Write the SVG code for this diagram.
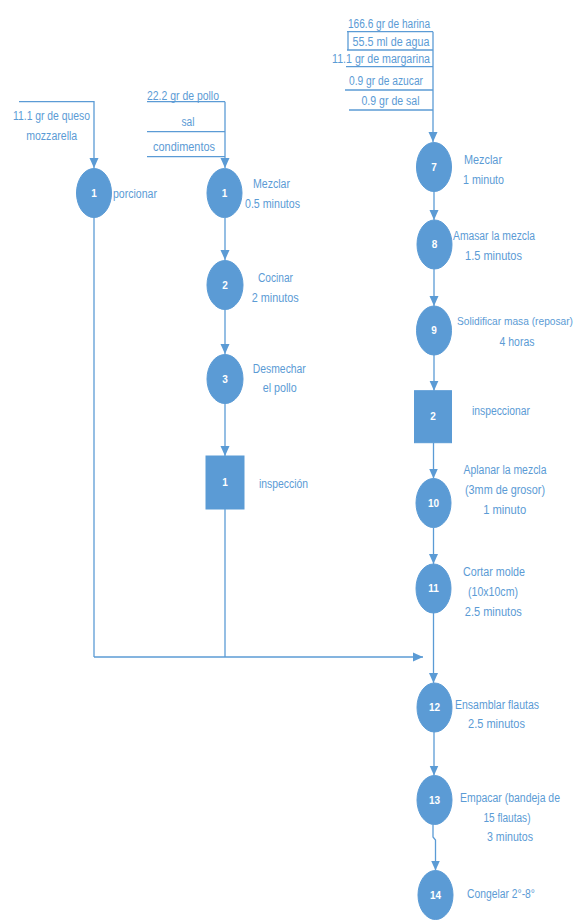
<svg xmlns="http://www.w3.org/2000/svg" width="586" height="920" viewBox="0 0 586 920">
  <style>
    .bg { fill: #ffffff; }
    .op { fill: #5b9bd5; stroke: #5b9bd5; stroke-width: 1; }
    .num { fill: #ffffff; font-family: "Liberation Sans", sans-serif; font-size: 10px; font-weight: bold; text-anchor: middle; }
    .lbl { fill: #5b9bd5; font-family: "Liberation Sans", sans-serif; font-size: 12.5px; text-anchor: middle; }
    .lbl.sm { font-size: 10.5px; }
    .ln { fill: none; stroke: #5b9bd5; stroke-width: 1.3; }
    .arr { fill: none; stroke: #5b9bd5; stroke-width: 1.3; marker-end: url(#ah); }
  </style>
  <defs>
    <marker id="ah" markerUnits="userSpaceOnUse" markerWidth="10" markerHeight="10" viewBox="0 0 10 10" refX="10" refY="5" orient="auto">
      <path d="M0,0.5 L10,5 L0,9.5 Z" fill="#5b9bd5"/>
    </marker>
  </defs>
  <rect class="bg" x="0" y="0" width="586" height="920"/>

  <!-- connectors -->
  <g id="connectors">
    <!-- cheese input -->
    <polyline class="arr" points="19,101.7 94,101.7 94,168"/>
    <!-- chicken inputs -->
    <line class="ln" x1="147" y1="101.7" x2="225" y2="101.7"/>
    <line class="ln" x1="147" y1="131.7" x2="225" y2="131.7"/>
    <line class="ln" x1="147" y1="156.7" x2="225" y2="156.7"/>
    <line class="arr" x1="225" y1="101.7" x2="225" y2="168"/>
    <!-- dough inputs -->
    <line class="ln" x1="347" y1="31.7" x2="433" y2="31.7"/>
    <line class="ln" x1="348" y1="31.7" x2="348" y2="50"/>
    <line class="ln" x1="347" y1="50" x2="433" y2="50"/>
    <line class="ln" x1="346" y1="66.7" x2="433" y2="66.7"/>
    <line class="ln" x1="345" y1="90" x2="433" y2="90"/>
    <line class="ln" x1="349" y1="110" x2="433" y2="110"/>
    <line class="arr" x1="433" y1="31.7" x2="433" y2="142"/>
    <!-- chicken line -->
    <line class="arr" x1="225" y1="217.5" x2="225" y2="260"/>
    <line class="arr" x1="225" y1="309.5" x2="225" y2="354"/>
    <line class="arr" x1="225" y1="403.5" x2="225" y2="456"/>
    <line class="ln" x1="225" y1="509" x2="225" y2="657"/>
    <!-- cheese line -->
    <line class="ln" x1="94" y1="217.5" x2="94" y2="657"/>
    <!-- merge into main line -->
    <line class="arr" x1="94" y1="657" x2="423" y2="657"/>
    <!-- dough line -->
    <line class="arr" x1="434" y1="191.5" x2="434" y2="220"/>
    <line class="arr" x1="434" y1="269" x2="434" y2="306"/>
    <line class="arr" x1="434" y1="355" x2="434" y2="390.7"/>
    <line class="arr" x1="433.5" y1="442.7" x2="433.5" y2="478.5"/>
    <line class="arr" x1="433.5" y1="527.5" x2="433.5" y2="564"/>
    <line class="arr" x1="433.5" y1="613" x2="433.5" y2="683"/>
    <line class="arr" x1="434" y1="732" x2="434" y2="775.5"/>
    <polyline class="arr" points="433,824.5 433,837 435.5,840 435.5,870.5"/>
  </g>

  <!-- ingredient labels -->
  <g id="in-queso">
    <text class="lbl" x="51.5" y="119.5" textLength="77" lengthAdjust="spacingAndGlyphs">11.1 gr de queso</text>
    <text class="lbl" x="51.7" y="139.5" textLength="51" lengthAdjust="spacingAndGlyphs">mozzarella</text>
  </g>
  <g id="in-pollo">
    <text class="lbl" x="183" y="99.5" textLength="72" lengthAdjust="spacingAndGlyphs">22.2 gr de pollo</text>
    <text class="lbl" x="188" y="126" textLength="13" lengthAdjust="spacingAndGlyphs">sal</text>
    <text class="lbl" x="184" y="151" textLength="62" lengthAdjust="spacingAndGlyphs">condimentos</text>
  </g>
  <g id="in-masa">
    <text class="lbl" x="389" y="27.5" textLength="82" lengthAdjust="spacingAndGlyphs">166.6 gr de harina</text>
    <text class="lbl" x="391" y="46" textLength="77" lengthAdjust="spacingAndGlyphs">55.5  ml de agua</text>
    <text class="lbl" x="381" y="62.5" textLength="98" lengthAdjust="spacingAndGlyphs">11.1 gr de margarina</text>
    <text class="lbl" x="386" y="84.5" textLength="74" lengthAdjust="spacingAndGlyphs">0.9 gr de azucar</text>
    <text class="lbl" x="390.5" y="104.5" textLength="58" lengthAdjust="spacingAndGlyphs">0.9 gr de sal</text>
  </g>

  <!-- cheese branch -->
  <g id="op-q1">
    <ellipse class="op" cx="94" cy="193" rx="17.5" ry="24.5"/>
    <text class="num" x="94" y="196.5">1</text>
    <text class="lbl" x="135" y="197.5" textLength="44" lengthAdjust="spacingAndGlyphs">porcionar</text>
  </g>

  <!-- chicken branch -->
  <g id="op-p1">
    <ellipse class="op" cx="224.5" cy="193" rx="17.5" ry="24.5"/>
    <text class="num" x="224.5" y="196.5">1</text>
    <text class="lbl" x="271.5" y="187.5" textLength="37" lengthAdjust="spacingAndGlyphs">Mezclar</text>
    <text class="lbl" x="272.5" y="207.5" textLength="55" lengthAdjust="spacingAndGlyphs">0.5 minutos</text>
  </g>
  <g id="op-p2">
    <ellipse class="op" cx="225" cy="285" rx="18" ry="24.5"/>
    <text class="num" x="225" y="288.5">2</text>
    <text class="lbl" x="275.5" y="281.5" textLength="35" lengthAdjust="spacingAndGlyphs">Cocinar</text>
    <text class="lbl" x="275.3" y="301.5" textLength="47" lengthAdjust="spacingAndGlyphs">2 minutos</text>
  </g>
  <g id="op-p3">
    <ellipse class="op" cx="225" cy="379" rx="18" ry="24.5"/>
    <text class="num" x="225" y="382.5">3</text>
    <text class="lbl" x="279.3" y="372.5" textLength="53" lengthAdjust="spacingAndGlyphs">Desmechar</text>
    <text class="lbl" x="279.7" y="391.5" textLength="34" lengthAdjust="spacingAndGlyphs">el pollo</text>
  </g>
  <g id="insp-1">
    <rect class="op" x="206" y="456" width="38" height="53"/>
    <text class="num" x="225" y="486">1</text>
    <text class="lbl" x="283.5" y="487.5" textLength="49" lengthAdjust="spacingAndGlyphs">inspección</text>
  </g>

  <!-- dough branch -->
  <g id="op-7">
    <ellipse class="op" cx="434" cy="167" rx="17.5" ry="24.5"/>
    <text class="num" x="434" y="170.5">7</text>
    <text class="lbl" x="483" y="163.5" textLength="38" lengthAdjust="spacingAndGlyphs">Mezclar</text>
    <text class="lbl" x="483.5" y="183.5" textLength="41" lengthAdjust="spacingAndGlyphs">1 minuto</text>
  </g>
  <g id="op-8">
    <ellipse class="op" cx="434.5" cy="244.5" rx="17.5" ry="24.5"/>
    <text class="num" x="434.5" y="248">8</text>
    <text class="lbl" x="494" y="239.5" textLength="82" lengthAdjust="spacingAndGlyphs">Amasar la mezcla</text>
    <text class="lbl" x="493.5" y="259.5" textLength="57" lengthAdjust="spacingAndGlyphs">1.5 minutos</text>
  </g>
  <g id="op-9">
    <ellipse class="op" cx="434" cy="330.5" rx="17.5" ry="24.5"/>
    <text class="num" x="434" y="334">9</text>
    <text class="lbl sm" x="515" y="324.5" textLength="116" lengthAdjust="spacingAndGlyphs">Solidificar masa (reposar)</text>
    <text class="lbl" x="517" y="346" textLength="35" lengthAdjust="spacingAndGlyphs">4 horas</text>
  </g>
  <g id="insp-2">
    <rect class="op" x="414.5" y="390.7" width="37" height="52"/>
    <text class="num" x="433" y="420">2</text>
    <text class="lbl" x="501" y="414.5" textLength="58" lengthAdjust="spacingAndGlyphs">inspeccionar</text>
  </g>
  <g id="op-10">
    <ellipse class="op" cx="433.5" cy="503" rx="17.5" ry="24.5"/>
    <text class="num" x="433.5" y="506.5">10</text>
    <text class="lbl" x="505" y="473.5" textLength="83" lengthAdjust="spacingAndGlyphs">Aplanar la mezcla</text>
    <text class="lbl" x="505" y="493.5" textLength="80" lengthAdjust="spacingAndGlyphs">(3mm de grosor)</text>
    <text class="lbl" x="504.7" y="513.5" textLength="43" lengthAdjust="spacingAndGlyphs">1 minuto</text>
  </g>
  <g id="op-11">
    <ellipse class="op" cx="433.5" cy="588.5" rx="17.5" ry="24.5"/>
    <text class="num" x="433.5" y="592">11</text>
    <text class="lbl" x="494" y="575.5" textLength="62" lengthAdjust="spacingAndGlyphs">Cortar molde</text>
    <text class="lbl" x="493" y="595.5" textLength="50" lengthAdjust="spacingAndGlyphs">(10x10cm)</text>
    <text class="lbl" x="493.3" y="615.5" textLength="57" lengthAdjust="spacingAndGlyphs">2.5 minutos</text>
  </g>

  <!-- assembly -->
  <g id="op-12">
    <ellipse class="op" cx="434.5" cy="707.5" rx="17.5" ry="24.5"/>
    <text class="num" x="434.5" y="711">12</text>
    <text class="lbl" x="497" y="708.5" textLength="84" lengthAdjust="spacingAndGlyphs">Ensamblar flautas</text>
    <text class="lbl" x="496.5" y="727.5" textLength="57" lengthAdjust="spacingAndGlyphs">2.5 minutos</text>
  </g>
  <g id="op-13">
    <ellipse class="op" cx="434.5" cy="800" rx="17.5" ry="24.5"/>
    <text class="num" x="434.5" y="803.5">13</text>
    <text class="lbl" x="510" y="801.5" textLength="100" lengthAdjust="spacingAndGlyphs">Empacar (bandeja de</text>
    <text class="lbl" x="507" y="821.5" textLength="47" lengthAdjust="spacingAndGlyphs">15 flautas)</text>
    <text class="lbl" x="510" y="840.5" textLength="46" lengthAdjust="spacingAndGlyphs">3 minutos</text>
  </g>
  <g id="op-14">
    <ellipse class="op" cx="435.5" cy="895" rx="17.5" ry="24.5"/>
    <text class="num" x="435.5" y="898.5">14</text>
    <text class="lbl" x="501" y="897.5" textLength="68" lengthAdjust="spacingAndGlyphs">Congelar 2°-8°</text>
  </g>
</svg>
